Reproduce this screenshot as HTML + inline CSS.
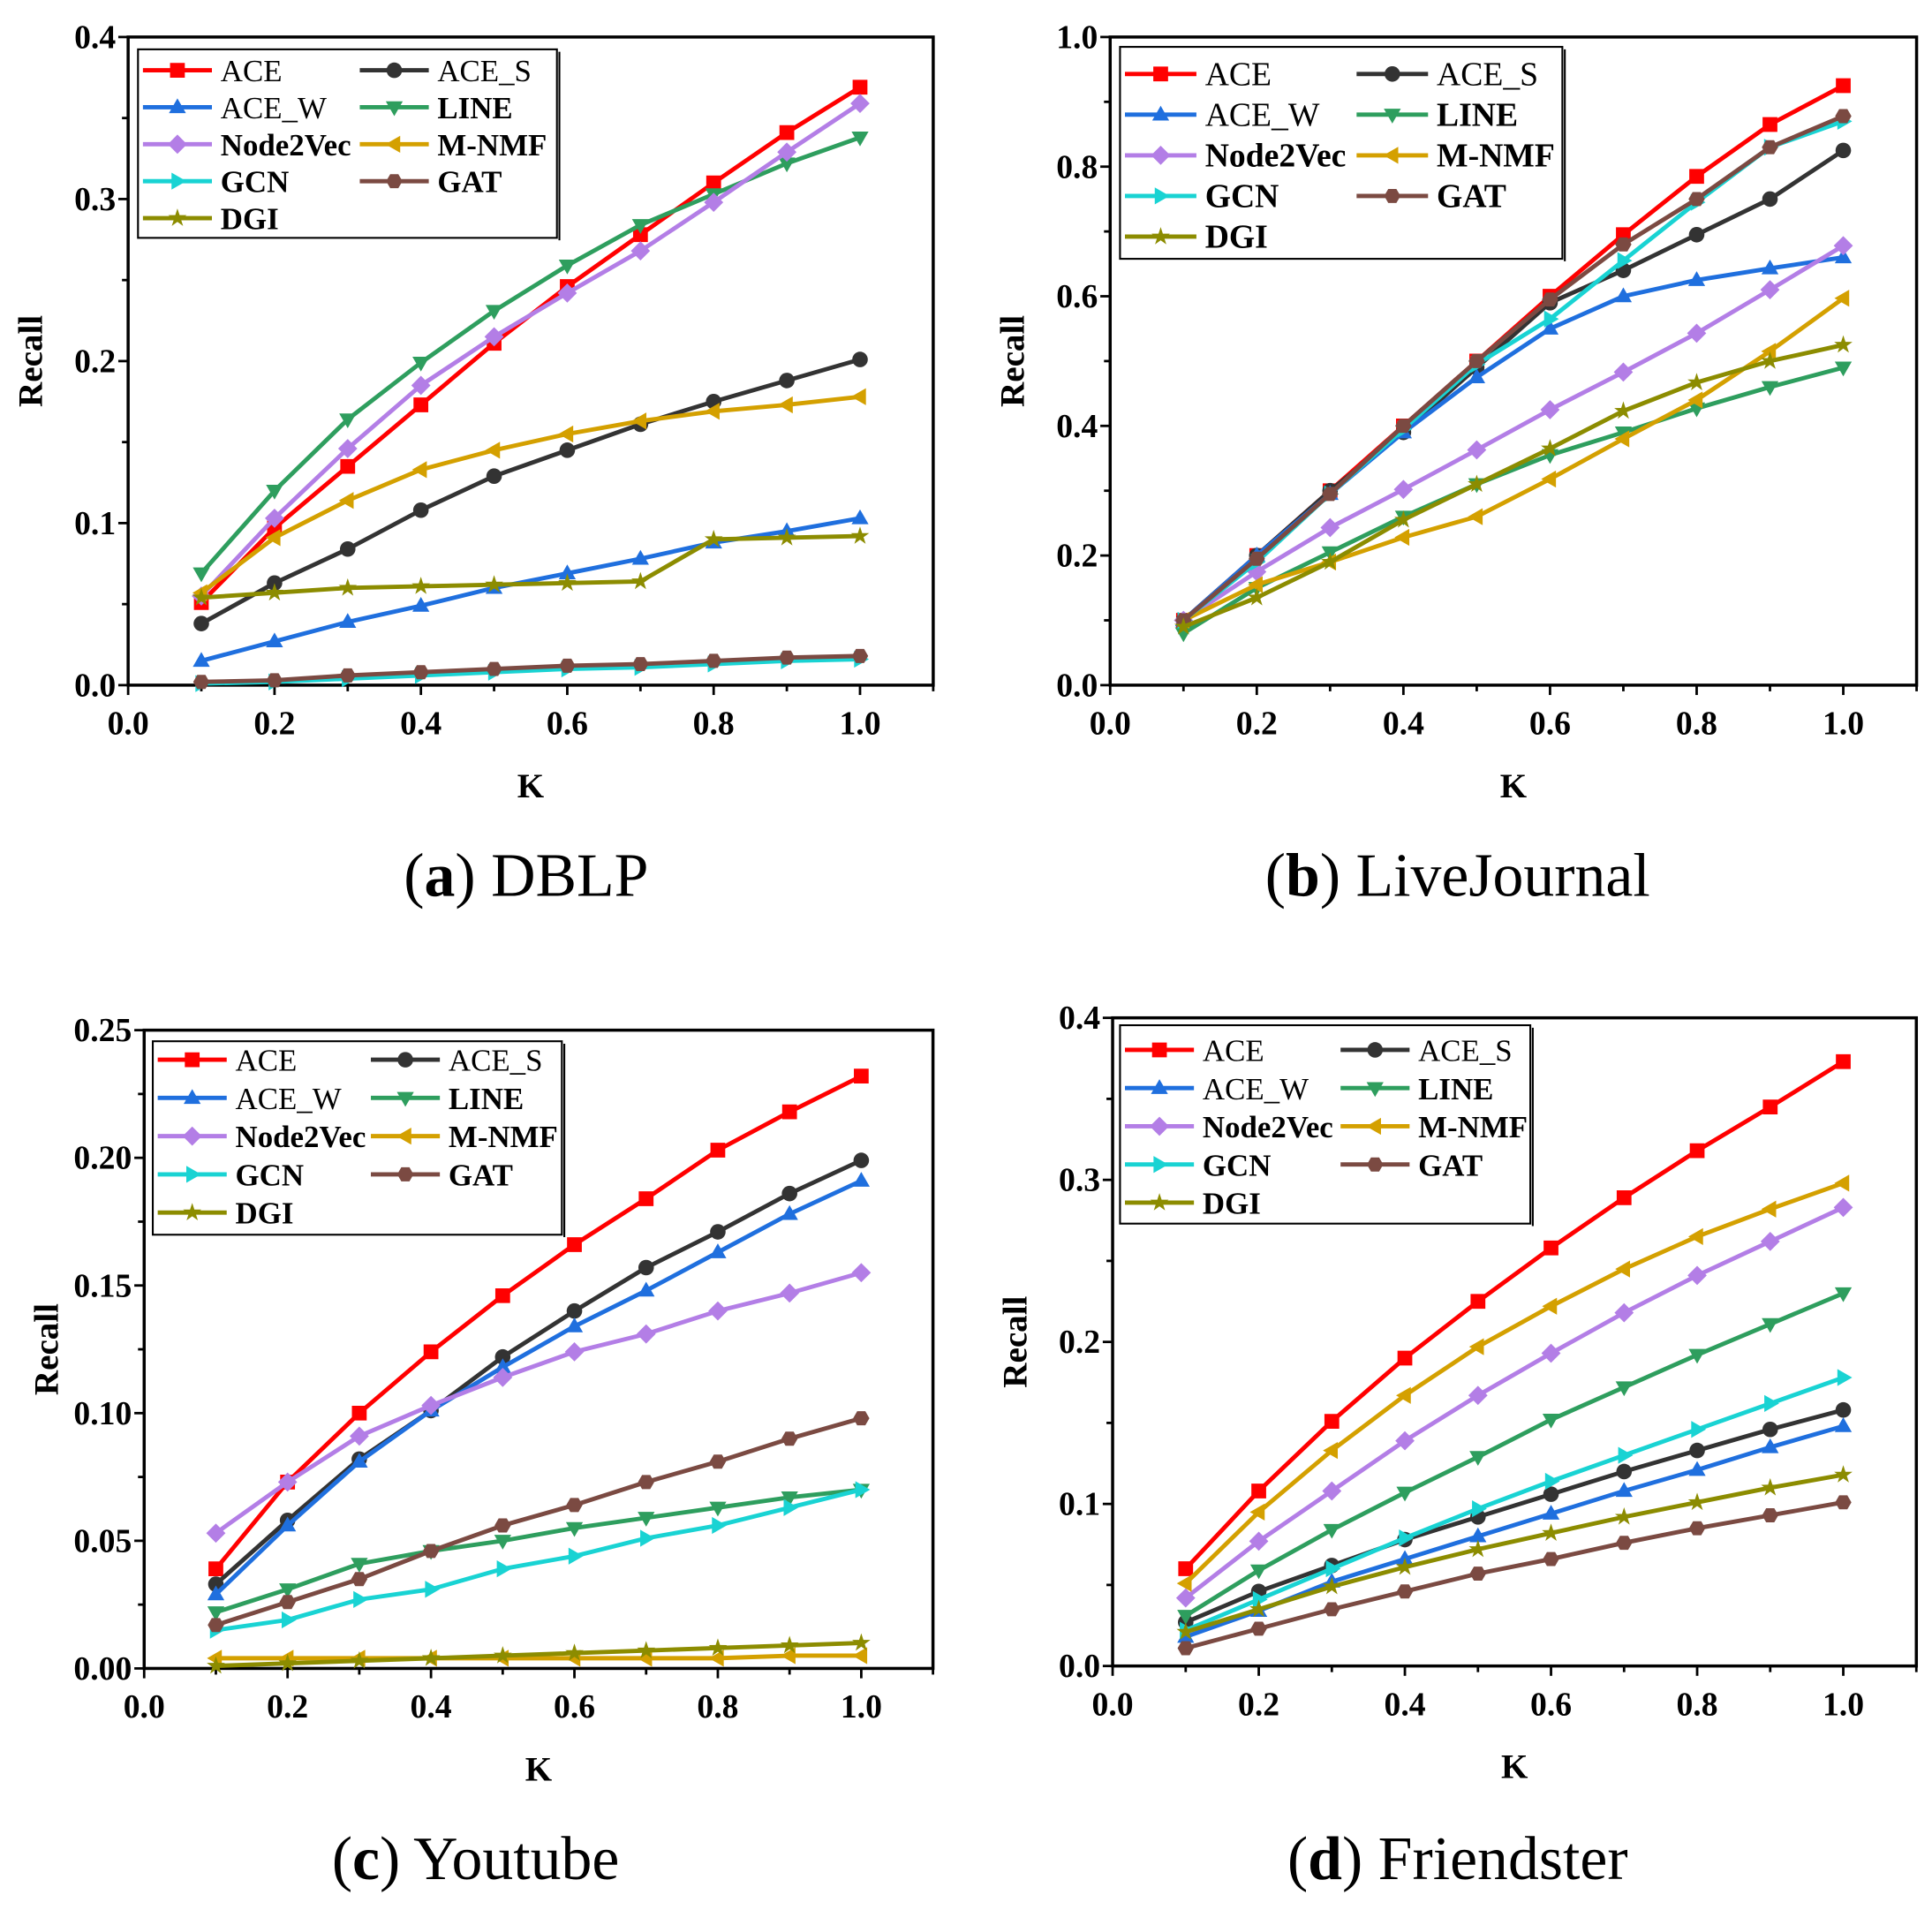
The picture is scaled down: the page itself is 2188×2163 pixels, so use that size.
<!DOCTYPE html>
<html><head><meta charset="utf-8">
<style>
html,body{margin:0;padding:0;background:#fff;}
svg{display:block;}
text{font-family:"Liberation Serif",serif;}
</style></head>
<body>
<svg id="fig" width="2188" height="2163" viewBox="0 0 1568 1550" xmlns="http://www.w3.org/2000/svg"></svg>
<script>
const kValues=[0.1,0.2,0.3,0.4,0.5,0.6,0.7,0.8,0.9,1.0];
const seriesNames=["ACE","ACE_S","ACE_W","LINE","Node2Vec","M-NMF","GCN","GAT","DGI"];
const xTickLabels=["0.0","0.2","0.4","0.6","0.8","1.0"];

const dblpACE=[.051,.097,.135,.173,.211,.246,.278,.31,.341,.369];
const dblpACES=[.038,.063,.084,.108,.129,.145,.161,.175,.188,.201];
const dblpACEW=[.015,.027,.039,.049,.060,.069,.078,.088,.095,.103];
const dblpLINE=[.069,.12,.164,.199,.231,.259,.284,.303,.322,.338];
const dblpN2V=[.055,.103,.146,.185,.215,.242,.268,.298,.329,.359];
const dblpMNMF=[.057,.091,.114,.133,.145,.155,.163,.169,.173,.178];
const dblpGCN=[.001,.002,.004,.006,.008,.010,.011,.013,.015,.016];
const dblpGAT=[.002,.003,.006,.008,.010,.012,.013,.015,.017,.018];
const dblpDGI=[.054,.057,.060,.061,.062,.063,.064,.090,.091,.092];
const dblpYTicks=["0.0","0.1","0.2","0.3","0.4"];

const ljACE=[.1,.2,.3,.4,.5,.6,.695,.785,.865,.925];
const ljACES=[.1,.2,.3,.39,.49,.59,.64,.695,.75,.825];
const ljACEW=[.1,.2,.295,.39,.475,.55,.6,.625,.643,.66];
const ljLINE=[.08,.15,.205,.26,.31,.355,.39,.427,.46,.49];
const ljN2V=[.1,.175,.243,.302,.363,.425,.483,.543,.61,.678];
const ljMNMF=[.1,.155,.19,.228,.26,.318,.38,.44,.515,.597];
const ljGCN=[.1,.19,.295,.395,.495,.565,.655,.745,.83,.87];
const ljGAT=[.1,.195,.295,.4,.5,.595,.68,.75,.83,.878];
const ljDGI=[.09,.135,.19,.255,.31,.365,.423,.467,.5,.525];
const ljYTicks=["0.0","0.2","0.4","0.6","0.8","1.0"];

const ytACE=[.039,.073,.100,.124,.146,.166,.184,.203,.218,.232];
const ytACES=[.033,.058,.082,.101,.122,.140,.157,.171,.186,.199];
const ytACEW=[.029,.056,.081,.101,.118,.134,.148,.163,.178,.191];
const ytLINE=[.022,.031,.041,.046,.050,.055,.059,.063,.067,.070];
const ytN2V=[.053,.073,.091,.103,.114,.124,.131,.140,.147,.155];
const ytMNMF=[.004,.004,.004,.004,.004,.004,.004,.004,.005,.005];
const ytGCN=[.015,.019,.027,.031,.039,.044,.051,.056,.063,.070];
const ytGAT=[.017,.026,.035,.046,.056,.064,.073,.081,.090,.098];
const ytDGI=[.001,.002,.003,.004,.005,.006,.007,.008,.009,.010];
const ytYTicks=["0.00","0.05","0.10","0.15","0.20","0.25"];

const frACE=[.06,.108,.151,.19,.225,.258,.289,.318,.345,.373];
const frACES=[.027,.046,.062,.078,.092,.106,.120,.133,.146,.158];
const frACEW=[.018,.034,.052,.066,.080,.094,.108,.121,.135,.148];
const frLINE=[.031,.059,.084,.107,.129,.152,.172,.192,.211,.230];
const frN2V=[.042,.077,.108,.139,.167,.193,.218,.241,.262,.283];
const frMNMF=[.051,.095,.133,.167,.197,.222,.245,.265,.282,.298];
const frGCN=[.022,.041,.060,.079,.097,.114,.130,.146,.162,.178];
const frGAT=[.011,.023,.035,.046,.057,.066,.076,.085,.093,.101];
const frDGI=[.021,.035,.049,.061,.072,.082,.092,.101,.110,.118];
const frYTicks=["0.0","0.1","0.2","0.3","0.4"];

const colors=["#ff0000","#333333","#1f6fde","#2e9e5e","#b37ee6","#d4a000","#19d3d3","#7b4a42","#8c8c00"];
const markers=["square","circle","tup","tdown","diamond","tleft","tright","hex","star"];
const NS="http://www.w3.org/2000/svg";
const svg=document.getElementById("fig");
function el(tag,attrs,parent){const e=document.createElementNS(NS,tag);for(const k in attrs)e.setAttribute(k,attrs[k]);(parent||svg).appendChild(e);return e;}

function markerPath(type,x,y,r){
  const pts=(arr)=>"M"+arr.map(p=>p.join(",")).join("L")+"Z";
  switch(type){
    case "square": return pts([[x-r,y-r],[x+r,y-r],[x+r,y+r],[x-r,y+r]]);
    case "tup": return pts([[x,y-r*1.2],[x+r*1.15,y+r*0.8],[x-r*1.15,y+r*0.8]]);
    case "tdown": return pts([[x,y+r*1.2],[x+r*1.15,y-r*0.8],[x-r*1.15,y-r*0.8]]);
    case "tleft": return pts([[x-r*1.2,y],[x+r*0.8,y-r*1.15],[x+r*0.8,y+r*1.15]]);
    case "tright": return pts([[x+r*1.2,y],[x-r*0.8,y-r*1.15],[x-r*0.8,y+r*1.15]]);
    case "diamond": return pts([[x,y-r*1.3],[x+r*1.3,y],[x,y+r*1.3],[x-r*1.3,y]]);
    case "hex": {const a=[];for(let i=0;i<6;i++){const t=Math.PI/3*i;a.push([x+r*1.1*Math.cos(t),y+r*1.1*Math.sin(t)]);}return pts(a);}
    case "star": {const a=[];for(let i=0;i<10;i++){const t=-Math.PI/2+Math.PI/5*i;const rr=i%2?r*0.5:r*1.3;a.push([x+rr*Math.cos(t),y+rr*Math.sin(t)]);}return pts(a);}
  }
  return "";
}
function drawMarker(g,type,x,y,r,c){
  if(type==="circle"){const m=el("circle",{cx:x,cy:y,r:r*1.05,fill:c},g);return m;}
  return el("path",{d:markerPath(type,x,y,r),fill:c},g);
}

function drawPanel(cfg){
  const g=el("g",{});
  
  
  const xs=v=>cfg.x0+(cfg.x1-cfg.x0)*v;
  const ys=v=>cfg.y0-(cfg.y0-cfg.yTop)*(v/cfg.ymax);
  const right=xs(1.1);
  const nY=cfg.yTicks.length;
  for(let i=0;i<nY;i++){
    const v=cfg.ymax*i/(nY-1);const y=ys(v);
    el("line",{x1:cfg.x0-8,y1:y,x2:cfg.x0,y2:y,stroke:"#000","stroke-width":2},g);
    const t=el("text",{x:cfg.x0-10,y:y+9,"text-anchor":"end","font-size":27,"font-weight":"bold"},g);
    t.textContent=cfg.yTicks[i];
    
    
    if(i<nY-1){const ym=ys(cfg.ymax*(i+0.5)/(nY-1));el("line",{x1:cfg.x0-5,y1:ym,x2:cfg.x0,y2:ym,stroke:"#000","stroke-width":2},g);}
  }
  for(let i=0;i<xTickLabels.length;i++){
    const x=xs(i*0.2);
    el("line",{x1:x,y1:cfg.y0,x2:x,y2:cfg.y0+8,stroke:"#000","stroke-width":2},g);
    const xm=xs(i*0.2+0.1);
    el("line",{x1:xm,y1:cfg.y0,x2:xm,y2:cfg.y0+5,stroke:"#000","stroke-width":2},g);
    const t=el("text",{x:x,y:cfg.y0+40,"text-anchor":"middle","font-size":27,"font-weight":"bold"},g);
    t.textContent=xTickLabels[i];
    
    
  }
  const frame=el("rect",{x:cfg.x0,y:cfg.yTop,width:right-cfg.x0,height:cfg.y0-cfg.yTop,fill:"none",stroke:"#000","stroke-width":2.5},g);
  
  
  cfg.series.forEach((vals,si)=>{
    const sg=el("g",{},g);
    
    
    const d=vals.map((v,i)=>(i?"L":"M")+xs(kValues[i])+","+ys(v)).join("");
    el("path",{d:d,fill:"none",stroke:colors[si],"stroke-width":3.5,"stroke-linejoin":"round"},sg);
    vals.forEach((v,i)=>{const m=drawMarker(sg,markers[si],xs(kValues[i]),ys(v),6,colors[si]);
      
      });
  });
  const yl=el("text",{x:0,y:0,"text-anchor":"middle","font-size":28,"font-weight":"bold",transform:"translate("+(cfg.x0-70)+","+((cfg.y0+cfg.yTop)/2)+") rotate(-90)"},g);
  yl.textContent="Recall";
  
  
  const xl=el("text",{x:(cfg.x0+right)/2,y:cfg.y0+91,"text-anchor":"middle","font-size":28,"font-weight":"bold"},g);
  xl.textContent="K";
  
  
  const L=cfg.legend;
  const lg=el("g",{},g);
  
  
  el("rect",{x:L.x,y:L.y,width:L.w,height:L.h,fill:"#fff",stroke:"#000","stroke-width":1.5},lg);
  el("line",{x1:L.x+L.w+2,y1:L.y+2,x2:L.x+L.w+2,y2:L.y+L.h+2,stroke:"#000","stroke-width":1.5},lg);
  seriesNames.forEach((n,si)=>{
    const col=si%2,row=Math.floor(si/2);
    const lx=L.x+4+col*L.col2,ly=L.y+L.row0+row*L.dy;
    const eg=el("g",{},lg);
    
    
    el("line",{x1:lx,y1:ly,x2:lx+L.lw,y2:ly,stroke:colors[si],"stroke-width":3.5},eg);
    drawMarker(eg,markers[si],lx+L.lw/2,ly,6,colors[si]);
    const t=el("text",{x:lx+L.lw+7,y:ly+9,"font-size":L.fs,"font-weight":(n==="ACE"||n==="ACE_S"||n==="ACE_W")?"normal":"bold"},eg);
    t.textContent=n;
  });
  const cap=el("text",{x:cfg.capX,y:cfg.capY,"text-anchor":"middle","font-size":50},g);
  
  
  const t1=el("tspan",{},cap);t1.textContent="(";
  const t2=el("tspan",{"font-weight":"bold"},cap);t2.textContent=cfg.letter;
  const t3=el("tspan",{},cap);t3.textContent=") "+cfg.title;
}

drawPanel({name:"dblp",x0:104,x1:698,y0:556,yTop:30,ymax:0.4,yTicks:dblpYTicks,
  series:[dblpACE,dblpACES,dblpACEW,dblpLINE,dblpN2V,dblpMNMF,dblpGCN,dblpGAT,dblpDGI],
  legend:{x:112,y:40,w:340,h:153,row0:17,dy:30,col2:176,lw:56,fs:25},capX:427,capY:727,letter:"a",title:"DBLP"});
drawPanel({name:"livejournal",x0:901,x1:1496,y0:556,yTop:30,ymax:1.0,yTicks:ljYTicks,
  series:[ljACE,ljACES,ljACEW,ljLINE,ljN2V,ljMNMF,ljGCN,ljGAT,ljDGI],
  legend:{x:909,y:38,w:359,h:172,row0:22,dy:33,col2:188,lw:58,fs:27},capX:1183,capY:727,letter:"b",title:"LiveJournal"});
drawPanel({name:"youtube",x0:117,x1:699,y0:1354,yTop:836,ymax:0.25,yTicks:ytYTicks,
  series:[ytACE,ytACES,ytACEW,ytLINE,ytN2V,ytMNMF,ytGCN,ytGAT,ytDGI],
  legend:{x:124,y:845,w:332,h:157,row0:15,dy:31,col2:173,lw:56,fs:25},capX:386,capY:1525,letter:"c",title:"Youtube"});
drawPanel({name:"friendster",x0:903,x1:1496,y0:1352,yTop:826,ymax:0.4,yTicks:frYTicks,
  series:[frACE,frACES,frACEW,frLINE,frN2V,frMNMF,frGCN,frGAT,frDGI],
  legend:{x:909,y:832,w:333,h:161,row0:20,dy:31,col2:175,lw:56,fs:25},capX:1183,capY:1525,letter:"d",title:"Friendster"});
</script>
</body></html>
